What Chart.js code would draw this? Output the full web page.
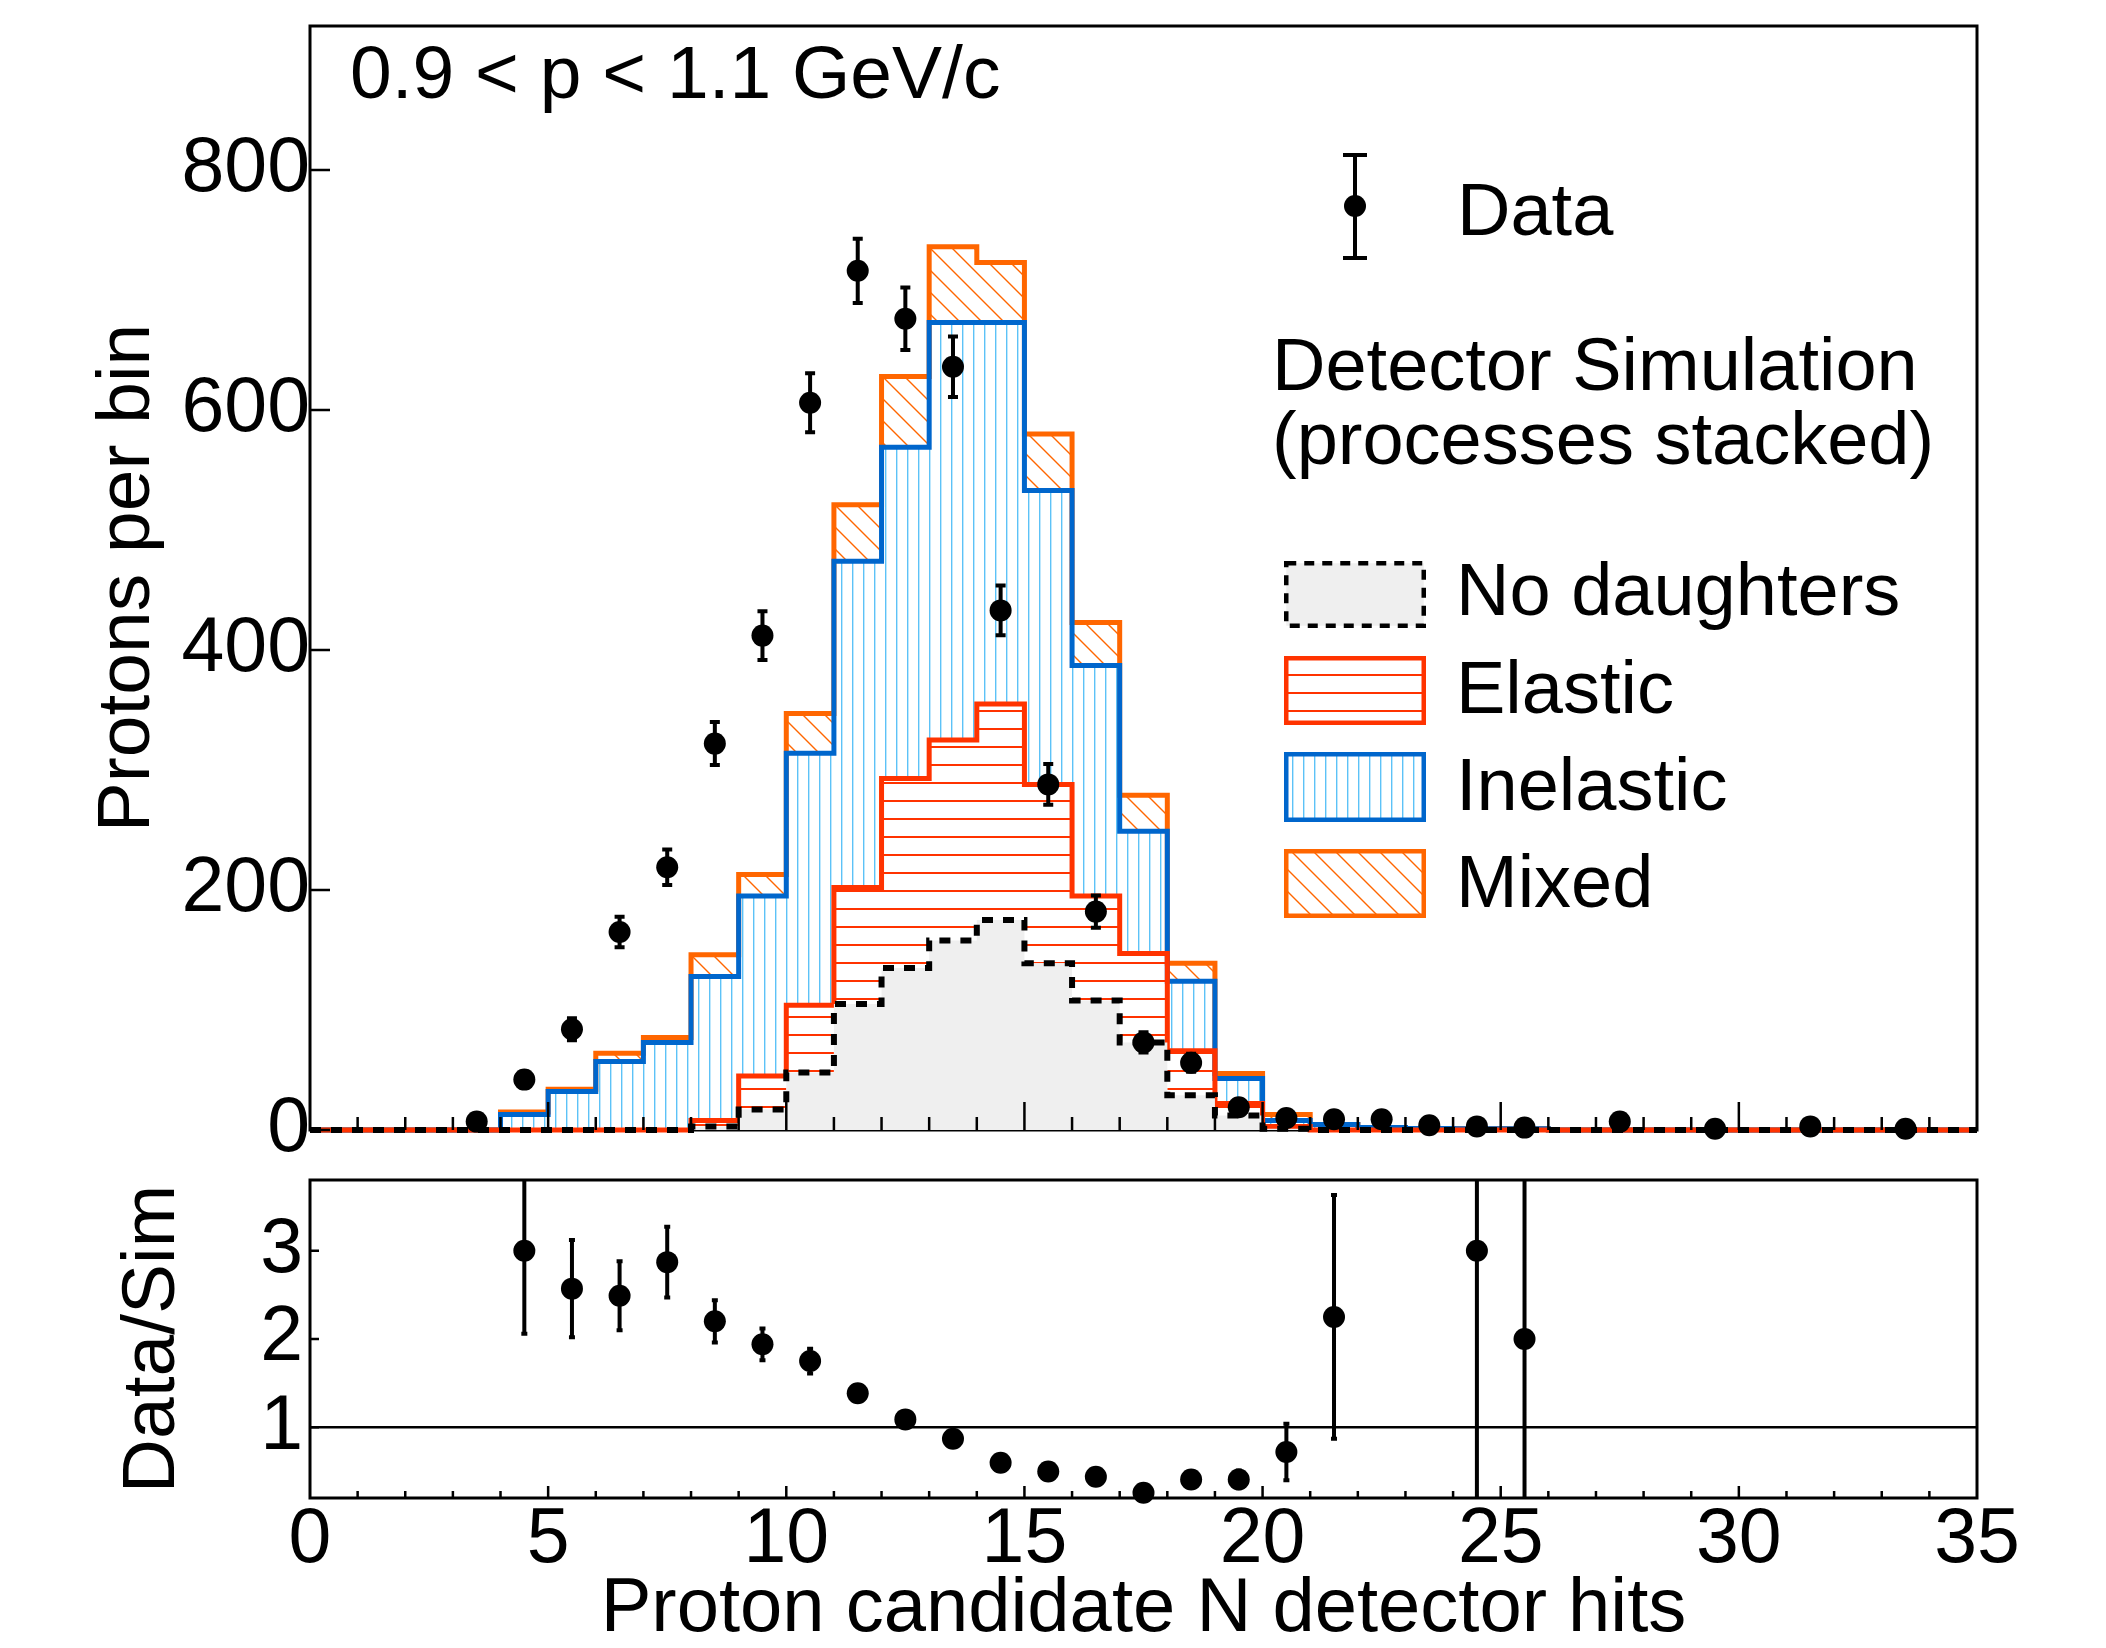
<!DOCTYPE html>
<html>
<head>
<meta charset="utf-8">
<script src="https://cdn.jsdelivr.net/npm/chart.js@4.4.1/dist/chart.umd.min.js"></script>
<style>
  html, body { margin: 0; padding: 0; background: #ffffff; }
  #wrap { position: relative; width: 2106px; height: 1648px; }
  canvas { position: absolute; left: 0; }
  #main { top: 0; }
  #ratio { top: 1175px; }
</style>
</head>
<body>
<div id="wrap">
  <canvas id="main" width="2106" height="1175"></canvas>
  <canvas id="ratio" width="2106" height="473"></canvas>
</div>
<script>
'use strict';
// bin edges, width 1 hit
var binEdges = [0,1,2,3,4,5,6,7,8,9,10,11,12,13,14,15,16,17,18,19,20,21,22,23,24,25,26,27,28,29,30,31,32,33,34,35];

// simulated protons per bin, one value per bin (stacked in this order)
var noDaughters = [0,0,0,0,0,0,0,0,3,17,48,105,135,158,175,139,108,73,29,12,1,0,0,0,0,0,0,0,0,0,0,0,0,0,0];
var elastic     = [0,0,0,0,0,0,0,0,5,28,56,97,158,167,180,149,87,74,37,10,2,0,0,0,0,0,0,0,0,0,0,0,0,0,0];
var inelastic   = [0,0,0,0,13,32,57,73,120,150,210,272,276,348,318,245,192,102,58,21,5,4.5,2,1.2,1,1,0,0,0,0,0,0,0,0,0];
var mixed       = [0,0,0,0,2,2,7,4,18,18,33,47,59,63,50,47,36,30,15,4,5,0,0,0,0,0,0,0,0,0,0,0,0,0,0];

// data points
var dataCenters = [3.5,4.5,5.5,6.5,7.5,8.5,9.5,10.5,11.5,12.5,13.5,14.5,15.5,16.5,17.5,18.5,19.5,20.5,21.5,22.5,23.5,24.5,25.5,27.5,29.5,31.5,33.5];
var dataCounts  = [7,42,84,165,219,322,412,606,716,676,636,433,288,182,73,56,19,10,9,9,4,3,2,7,1,3,1];
var dataErrors  = [2.6,6.5,9.2,12.8,14.8,17.9,20.3,24.6,26.8,26,25.2,20.8,17,13.5,8.5,7.5,4.4,3.2,3,3,2,1.7,1.4,2.6,1,1.7,1];

// data / simulation
var ratioCenters = [4.5,5.5,6.5,7.5,8.5,9.5,10.5,11.5,12.5,13.5,14.5,15.5,16.5,17.5,18.5,19.5,20.5,21.5,24.5,25.5];
var ratioValues  = [3.0,2.57,2.49,2.87,2.20,1.94,1.75,1.385,1.09,0.87,0.60,0.50,0.44,0.26,0.41,0.41,0.72,2.25,3.0,2.0];
var ratioErrors  = [0.94,0.55,0.39,0.40,0.24,0.18,0.14,0.08,0.07,0.06,0.05,0.04,0.04,0.03,0.06,0.10,0.32,1.38,3.0,2.0];

// tick labels
var countTicks = [0,200,400,600,800];
var ratioTicks = [1,2,3];
var hitTicks = [0,5,10,15,20,25,30,35];

var FONT = "'Liberation Sans', Arial, Helvetica, sans-serif";
Chart.defaults.font.family = FONT;
Chart.defaults.color = '#000000';

var mainCtx = document.getElementById('main').getContext('2d');

// hatch patterns like the ROOT fill styles
function makePattern(kind, color){
  var c = document.createElement('canvas');
  var g = c.getContext('2d');
  if(kind === 'h'){
    c.width = 8; c.height = 18;
    g.fillStyle = color; g.fillRect(0, 8, 8, 2);
  } else if(kind === 'v'){
    c.width = 11; c.height = 8;
    g.fillStyle = color; g.fillRect(5, 0, 1.4, 8);
  } else {
    c.width = 22; c.height = 22;
    g.strokeStyle = color; g.lineWidth = 1.4;
    g.beginPath();
    g.moveTo(-2, -2); g.lineTo(24, 24);
    g.moveTo(-2, 20); g.lineTo(2, 24);
    g.moveTo(20, -2); g.lineTo(24, 2);
    g.stroke();
  }
  return mainCtx.createPattern(c, 'repeat');
}
var redHatch = makePattern('h', '#ff3300');
var blueHatch = makePattern('v', '#5cc2f7');
var orangeHatch = makePattern('d', '#ff6600');

function histPoints(values){
  var pts = [];
  for(var i = 0; i < values.length; i++){
    pts.push({x: binEdges[i], y: values[i]});
  }
  pts.push({x: binEdges[values.length], y: values[values.length - 1]});
  return pts;
}

function errPoints(xs, ys, es){
  var pts = [];
  for(var i = 0; i < xs.length; i++){
    pts.push({x: xs[i], y: ys[i], e: es[i]});
  }
  return pts;
}

function fixedTicks(arr){
  return function(scale){
    scale.ticks = arr.map(function(v){ return {value: v}; });
  };
}

// frame, inward ticks and error bars
function axesPlugin(cfg){
  return {
    id: 'axes',
    beforeDatasetsDraw: function(chart){
      var a = chart.chartArea, ctx = chart.ctx;
      ctx.save();
      ctx.strokeStyle = '#000';
      ctx.lineWidth = 3;
      ctx.strokeRect(a.left, a.top, a.right - a.left, a.bottom - a.top);
      ctx.restore();
    },
    afterDatasetsDraw: function(chart){
      var a = chart.chartArea, ctx = chart.ctx;
      var xs = chart.scales.x, ys = chart.scales.y;
      ctx.save();
      ctx.strokeStyle = '#000';
      ctx.lineWidth = 2.5;
      ctx.beginPath();
      for(var v = 1; v < 35; v++){
        var px = xs.getPixelForValue(v);
        var len = (v % 5 === 0) ? cfg.xMajor : cfg.xMinor;
        ctx.moveTo(px, a.bottom);
        ctx.lineTo(px, a.bottom - len);
      }
      cfg.yTicks.forEach(function(t){
        var py = ys.getPixelForValue(t);
        ctx.moveTo(a.left, py);
        ctx.lineTo(a.left + cfg.yLen, py);
      });
      ctx.stroke();

      // error bars
      ctx.beginPath();
      ctx.rect(a.left, a.top, a.right - a.left, a.bottom - a.top);
      ctx.clip();
      var meta = chart.getDatasetMeta(0);
      var pts = chart.data.datasets[0].data;
      ctx.lineWidth = cfg.errWidth;
      ctx.beginPath();
      for(var i = 0; i < pts.length; i++){
        var el = meta.data[i];
        var y1 = ys.getPixelForValue(pts[i].y + pts[i].e);
        var y2 = ys.getPixelForValue(pts[i].y - pts[i].e);
        ctx.moveTo(el.x, y1); ctx.lineTo(el.x, y2);
        ctx.moveTo(el.x - cfg.cap, y1); ctx.lineTo(el.x + cfg.cap, y1);
        ctx.moveTo(el.x - cfg.cap, y2); ctx.lineTo(el.x + cfg.cap, y2);
      }
      ctx.stroke();
      ctx.restore();
    }
  };
}

// legend and labels of the upper pad
var legendPlugin = {
  id: 'legendBox',
  afterDraw: function(chart){
    var ctx = chart.ctx;
    ctx.save();
    ctx.fillStyle = '#000';
    ctx.textBaseline = 'alphabetic';
    ctx.textAlign = 'left';
    ctx.font = '75px ' + FONT;
    ctx.fillText('0.9 < p < 1.1 GeV/c', 350, 98);

    ctx.font = '74px ' + FONT;
    ctx.fillText('Data', 1457, 235);
    ctx.fillText('Detector Simulation', 1272, 390);
    ctx.fillText('(processes stacked)', 1272, 464);
    ctx.fillText('No daughters', 1456, 615);
    ctx.fillText('Elastic', 1456, 713);
    ctx.fillText('Inelastic', 1456, 810);
    ctx.fillText('Mixed', 1456, 907);

    // data marker
    ctx.strokeStyle = '#000';
    ctx.lineWidth = 4;
    ctx.beginPath();
    ctx.moveTo(1355, 155); ctx.lineTo(1355, 258);
    ctx.moveTo(1343, 155); ctx.lineTo(1367, 155);
    ctx.moveTo(1343, 258); ctx.lineTo(1367, 258);
    ctx.stroke();
    ctx.beginPath();
    ctx.arc(1355, 206, 11, 0, Math.PI * 2);
    ctx.fill();

    var boxes = [
      {top: 561, bottom: 628, fill: '#efefef', line: '#000000', dash: [10, 8]},
      {top: 656, bottom: 725, fill: redHatch, line: '#ff3300', dash: []},
      {top: 752, bottom: 822, fill: blueHatch, line: '#0066cc', dash: []},
      {top: 849, bottom: 918, fill: orangeHatch, line: '#ff6600', dash: []}
    ];
    var lw = 4.5, left = 1284, right = 1426;
    boxes.forEach(function(b){
      var x = left + lw / 2, y = b.top + lw / 2;
      var w = right - left - lw, h = b.bottom - b.top - lw;
      ctx.fillStyle = b.fill;
      ctx.fillRect(x, y, w, h);
      ctx.setLineDash(b.dash);
      ctx.strokeStyle = b.line;
      ctx.lineWidth = lw;
      ctx.strokeRect(x, y, w, h);
    });
    ctx.restore();
  }
};

function histDataset(label, values, color, width, fill, bg, dash){
  return {
    label: label,
    data: histPoints(values),
    stepped: true,
    borderColor: color,
    borderWidth: width,
    borderDash: dash || [],
    borderJoinStyle: 'miter',
    borderCapStyle: 'butt',
    pointRadius: 0,
    fill: fill,
    backgroundColor: bg,
    clip: 5
  };
}

var mainChart = new Chart(document.getElementById('main'), {
  type: 'line',
  data: {
    datasets: [
      {
        label: 'Data',
        data: errPoints(dataCenters, dataCounts, dataErrors),
        showLine: false,
        pointRadius: 11,
        pointBackgroundColor: '#000',
        pointBorderWidth: 0,
        stack: 'data',
        clip: false
      },
      histDataset('No daughters', noDaughters, '#000000', 6, 'origin', '#efefef', [11, 10]),
      histDataset('Elastic', elastic, '#ff3300', 5, '-1', redHatch),
      histDataset('Inelastic', inelastic, '#0066cc', 5, '-1', blueHatch),
      histDataset('Mixed', mixed, '#ff6600', 5, '-1', orangeHatch)
    ]
  },
  options: {
    responsive: false,
    animation: false,
    events: [],
    devicePixelRatio: 1,
    layout: {autoPadding: false, padding: {left: 0, top: 26, right: 129, bottom: 45}},
    plugins: {legend: {display: false}, tooltip: {enabled: false}},
    scales: {
      x: {type: 'linear', min: 0, max: 35, display: false},
      y: {
        type: 'linear', min: 0, max: 920, stacked: true,
        grid: {display: false, drawTicks: false},
        border: {display: false},
        afterBuildTicks: fixedTicks(countTicks),
        ticks: {font: {size: 77}, color: '#000', padding: 0},
        title: {display: true, text: 'Protons per bin', color: '#000',
                font: {size: 75, lineHeight: 1}, padding: {top: 91, bottom: 0}},
        afterFit: function(s){ s.width = 310; s.paddingTop = 0; s.paddingBottom = 0; }
      }
    }
  },
  plugins: [axesPlugin({xMajor: 28, xMinor: 13, yTicks: countTicks, yLen: 20, errWidth: 4, cap: 5}), legendPlugin]
});

var ratioChart = new Chart(document.getElementById('ratio'), {
  type: 'line',
  data: {
    datasets: [
      {
        label: 'Data/Sim',
        data: errPoints(ratioCenters, ratioValues, ratioErrors),
        showLine: false,
        pointRadius: 11,
        pointBackgroundColor: '#000',
        pointBorderWidth: 0,
        clip: false
      },
      {
        label: 'unity',
        data: [{x: 0, y: 1}, {x: 35, y: 1}],
        borderColor: '#000',
        borderWidth: 2.5,
        pointRadius: 0,
        fill: false
      }
    ]
  },
  options: {
    responsive: false,
    animation: false,
    events: [],
    devicePixelRatio: 1,
    layout: {autoPadding: false, padding: {left: 0, top: 5, right: 129, bottom: 0}},
    plugins: {legend: {display: false}, tooltip: {enabled: false}},
    scales: {
      x: {
        type: 'linear', min: 0, max: 35,
        grid: {display: false, drawTicks: false},
        border: {display: false},
        afterBuildTicks: fixedTicks(hitTicks),
        ticks: {font: {size: 77, lineHeight: 1}, color: '#000', padding: 4, maxRotation: 0, autoSkip: false},
        title: {display: true, text: 'Proton candidate N detector hits', color: '#000',
                font: {size: 76, lineHeight: 1}, padding: {top: 0, bottom: 0}},
        afterFit: function(s){ s.height = 150; s.paddingLeft = 0; s.paddingRight = 0; }
      },
      y: {
        type: 'linear', min: 0.2, max: 3.8,
        grid: {display: false, drawTicks: false},
        border: {display: false},
        afterBuildTicks: fixedTicks(ratioTicks),
        ticks: {font: {size: 77}, color: '#000', padding: 7},
        title: {display: true, text: 'Data/Sim', color: '#000',
                font: {size: 75, lineHeight: 1}, padding: {top: 116, bottom: 0}},
        afterFit: function(s){ s.width = 310; s.paddingTop = 0; s.paddingBottom = 0; }
      }
    }
  },
  plugins: [axesPlugin({xMajor: 12, xMinor: 7, yTicks: ratioTicks, yLen: 9, errWidth: 4, cap: 3})]
});
</script>
</body>
</html>
